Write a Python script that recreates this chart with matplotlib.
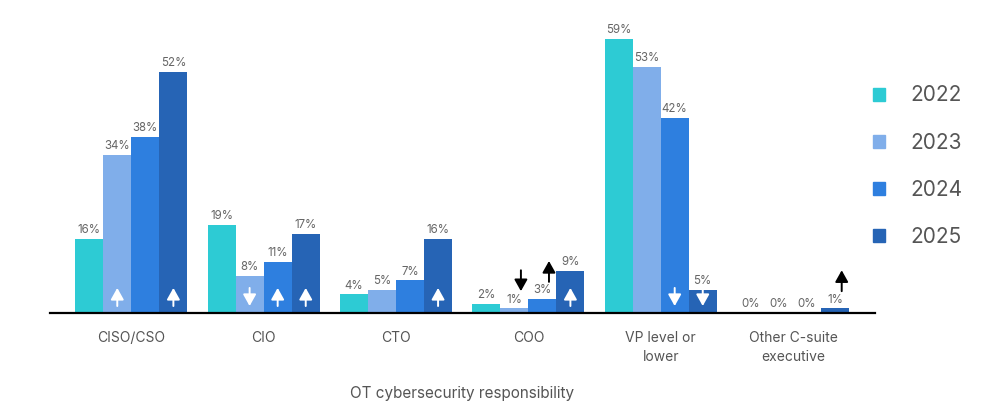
import matplotlib
matplotlib.use("Agg")
import matplotlib.pyplot as plt
from matplotlib.patches import Patch
import numpy as np

plt.rcParams['font.family'] = ['Inter', 'DejaVu Sans']

# data
categories = ["CISO/CSO", "CIO", "CTO", "COO", "VP level or\nlower", "Other C-suite\nexecutive"]
years = ["2022", "2023", "2024", "2025"]
v2022 = [16, 19, 4, 2, 59, 0]
v2023 = [34, 8, 5, 1, 53, 0]
v2024 = [38, 11, 7, 3, 42, 0]
v2025 = [52, 17, 16, 9, 5, 1]
colors = ["#2dcbd4", "#80aeea", "#2e7fdf", "#2664b5"]
# significant year-over-year changes: (category index, year index, direction)
changes = [(0, 1, "up"), (0, 3, "up"),
           (1, 1, "down"), (1, 2, "up"), (1, 3, "up"),
           (2, 3, "up"),
           (3, 1, "down"), (3, 2, "up"), (3, 3, "up"),
           (4, 2, "down"), (4, 3, "down"),
           (5, 3, "up")]

series = [v2022, v2023, v2024, v2025]
x = np.arange(len(categories))
w = 0.212

fig = plt.figure(figsize=(9.91, 4.17), dpi=100)
ax = fig.add_axes([0.0505, 0.2494, 0.8325, 0.657])

for j, vals in enumerate(series):
    pos = x + (j - 1.5) * w
    ax.bar(pos, vals, width=w, color=colors[j], label=years[j])
    for p, v in zip(pos, vals):
        ax.text(p, v + 0.6, f"{v}%", ha="center", va="bottom", fontsize=8.3, color="#666666")

for ci, yi, d in changes:
    v = series[yi][ci]
    px = x[ci] + (yi - 1.5) * w
    if v >= 5:
        col = "white"
        lo, hi = 1.5, 5.4
    else:
        col = "black"
        px += 0.05
        lo, hi = v + 3.7, v + 8.2
    start, end = (lo, hi) if d == "up" else (hi, lo)
    ax.annotate("", xy=(px, end), xytext=(px, start),
                arrowprops=dict(arrowstyle="-|>,head_length=0.5,head_width=0.28",
                                color=col, lw=1.4, mutation_scale=14,
                                shrinkA=0, shrinkB=0))

ax.set_xlim(-0.614, 5.62)
ax.set_ylim(0, 59)
for s in ["top", "right", "left"]:
    ax.spines[s].set_visible(False)
ax.spines["bottom"].set_linewidth(1.6)
ax.set_yticks([])
ax.set_xticks(x)
ax.set_xticklabels(categories, fontsize=10, color="#555555", linespacing=1.45)
ax.tick_params(axis="x", length=0, pad=13)
ax.set_xlabel("OT cybersecurity responsibility", fontsize=11, color="#555555", labelpad=16)

handles = [Patch(color=c) for c in colors]
fig.legend(handles, years, loc="upper left", bbox_to_anchor=(0.862, 0.84),
           frameon=False, fontsize=15, labelcolor="#555555",
           handlelength=0.6, handleheight=0.6, handletextpad=1.2, labelspacing=1.3)

fig.savefig("out.png", dpi=100)
